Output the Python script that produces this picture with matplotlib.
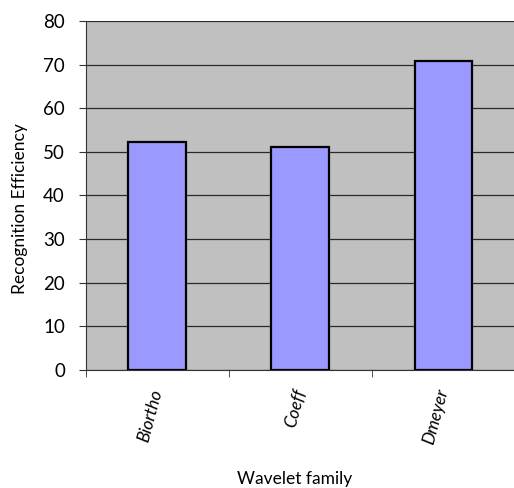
import numpy as np
import matplotlib
matplotlib.use("Agg")
import matplotlib.pyplot as plt

families = ['Biortho', 'Coeff', 'Dmeyer']
efficiency = [52.2, 51.0, 70.9]
y_ticks = [0, 10, 20, 30, 40, 50, 60, 70, 80]

plt.rcParams['font.family'] = ['Lato', 'DejaVu Sans']

fig = plt.figure(figsize=(5.14, 4.88), dpi=100)
ax = fig.add_axes([0.167, 0.242, 0.835, 0.715])

x = np.arange(len(families))
ax.bar(x, efficiency, width=0.405, color='#9999FF', edgecolor='black', linewidth=1.6, zorder=3)

ax.set_facecolor('#C0C0C0')
ax.set_xlim(-0.5, len(families) - 0.5)
ax.set_ylim(0, 80)
ax.set_yticks(y_ticks)
ax.grid(axis='y', color='#2a2a2a', linewidth=0.9, zorder=0)

# category labels at the centres, tick marks between categories
ax.set_xticks(x)
ax.set_xticklabels(families, rotation=75, style='italic', fontsize=12.5,
                   ha='right', va='center', rotation_mode='anchor')
ax.tick_params(axis='x', which='major', length=0, pad=14)
ax.set_xticks(np.arange(len(families) + 1) - 0.5, minor=True)
ax.tick_params(axis='x', which='minor', length=5, direction='out', color='#333333')
ax.tick_params(axis='y', length=5, labelsize=13.5, pad=10, color='#333333')

for s in ['top', 'right']:
    ax.spines[s].set_visible(False)
ax.spines['left'].set_color('#333333')
ax.spines['bottom'].set_color('#333333')

fig.text(0.038, 0.572, 'Recognition Efficiency', rotation=90, ha='center', va='center', fontsize=12.5)
fig.text(0.574, 0.008, 'Wavelet family', ha='center', va='baseline', fontsize=12.5)

fig.savefig('out.png', dpi=100)
